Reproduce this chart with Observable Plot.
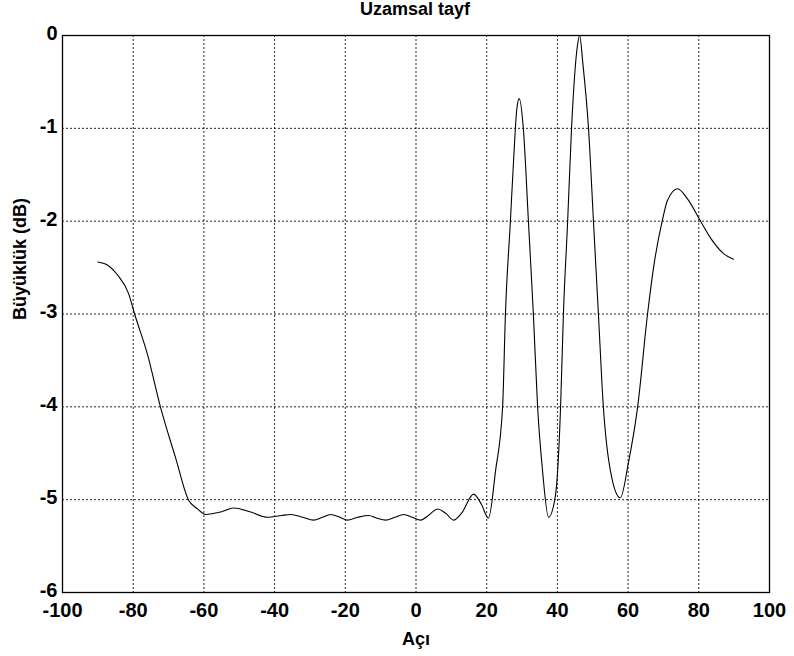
<!DOCTYPE html>
<html><head><meta charset="utf-8">
<script src="https://cdn.jsdelivr.net/npm/d3@7"></script>
<script src="https://cdn.jsdelivr.net/npm/@observablehq/plot@0.6"></script>
<style>
body{margin:0;background:#fff;font-family:Arial,"Liberation Sans",sans-serif;}
#title{position:relative;height:20px;width:794px;}
#title span{position:absolute;left:415px;top:0px;line-height:18px;transform:translateX(-50%);font-weight:bold;font-size:18px;color:#000;white-space:nowrap;}
</style></head>
<body>
<div id="title"><span>Uzamsal tayf</span></div>
<div id="chart"></div>
<script>
const titleText = "Uzamsal tayf";
const xLabel = "Açı";
const yLabel = "Büyüklük (dB)";
const xTicks = [-100,-80,-60,-40,-20,0,20,40,60,80,100];
const yTicks = [0,-1,-2,-3,-4,-5,-6];
const angle = [-90,-87,-84.4,-81.3,-79.6,-76,-72.3,-68,-64.4,-61.8,-59.5,-55,-51.6,-47,-42,-38,-35.5,-32,-29,-26.5,-24.2,-21.5,-19.4,-16.5,-13.4,-11,-8.6,-6,-3.5,-1,1.3,3.5,6.1,8.5,10.6,13,16.3,18.5,20.5,22.5,24.5,25.3,26.7,27.6,28.5,29.2,30.4,31.8,33.2,34.4,35.8,37.5,39.5,40.9,41.7,42.9,44,45.7,46.3,47.2,48.8,50.2,51.6,53,55,57.8,60.1,62.7,65.5,67.2,69.7,71.1,74,76.8,80.5,83.3,87,89.8];
const magnitude = [-2.44,-2.48,-2.58,-2.78,-3.0,-3.43,-4.0,-4.55,-5.0,-5.1,-5.16,-5.13,-5.09,-5.13,-5.19,-5.17,-5.16,-5.19,-5.22,-5.19,-5.16,-5.19,-5.22,-5.19,-5.17,-5.2,-5.22,-5.19,-5.16,-5.19,-5.22,-5.17,-5.1,-5.15,-5.22,-5.14,-4.94,-5.05,-5.2,-4.69,-4.0,-3.0,-2.0,-1.35,-0.8,-0.68,-1.02,-2.0,-3.0,-4.0,-4.69,-5.19,-4.94,-4.0,-3.0,-2.0,-1.0,-0.1,0,-0.3,-1.0,-2.0,-3.0,-4.0,-4.69,-4.98,-4.6,-4.0,-3.0,-2.5,-1.99,-1.78,-1.65,-1.76,-2.0,-2.18,-2.35,-2.41];
const data = angle.map((a,i)=>({x:a,y:magnitude[i]}));
const fmt = d => String(d);

const plot = Plot.plot({
  width: 794, height: 636,
  marginTop: 15, marginLeft: 62, marginRight: 25, marginBottom: 64,
  style: {fontFamily: "Arial, 'Liberation Sans', sans-serif", fontSize: "20px", fontWeight: "bold", color: "#000", background: "#fff"},
  x: {domain: [-100, 100], ticks: xTicks, label: null},
  y: {domain: [-6, 0], ticks: yTicks, label: null},
  marks: [
    Plot.gridX(xTicks, {stroke: "#000", strokeOpacity: 0.85, strokeDasharray: "2,2", strokeWidth: 1}),
    Plot.gridY(yTicks, {stroke: "#000", strokeOpacity: 0.85, strokeDasharray: "2,2", strokeWidth: 1}),
    Plot.frame({stroke: "#000", strokeWidth: 1.3}),
    Plot.axisX(xTicks, {tickSize: 0, tickPadding: 10, fontSize: 20, fontWeight: "bold", tickFormat: fmt, label: null}),
    Plot.axisY(yTicks, {tickSize: 0, tickPadding: 5, dy: -2, fontSize: 20, fontWeight: "bold", tickFormat: fmt, label: null}),
    Plot.text([xLabel], {frameAnchor: "bottom", lineAnchor: "middle", dy: 47, fontSize: 18, fontWeight: "bold", fill: "#000"}),
    Plot.text([yLabel], {frameAnchor: "left", lineAnchor: "middle", dx: -42, dy: 6, rotate: -90, fontSize: 18, fontWeight: "bold", fill: "#000"}),
    Plot.line(data, {x: "x", y: "y", stroke: "#000", strokeWidth: 1.1, curve: "monotone-x"})
  ]
});
document.getElementById("chart").appendChild(plot);
</script>
</body></html>
